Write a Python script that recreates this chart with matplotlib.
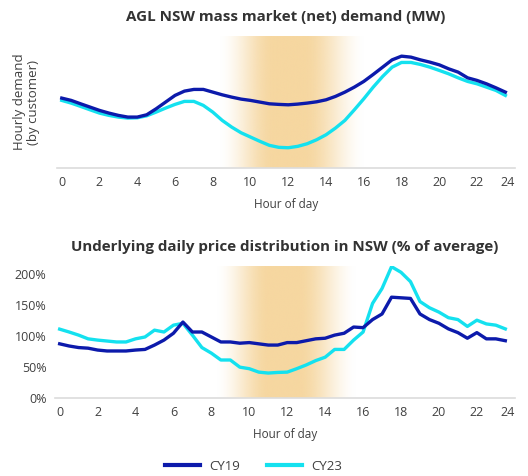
import numpy as np
import matplotlib
matplotlib.use("Agg")
import matplotlib.pyplot as plt
from matplotlib.lines import Line2D

plt.rcParams['font.family'] = ['Open Sans', 'DejaVu Sans']

# half-hourly time axis
hours = np.arange(0, 24, 0.5)

# top chart: net demand per customer (arbitrary units, no y scale shown)
demand_cy19 = [70.0, 67.7, 64.3, 61.0, 57.7, 55.0, 52.7, 51.0, 51.0, 53.3,
               59.3, 66.0, 72.7, 77.0, 78.7, 78.7, 76.0, 73.3, 71.0, 69.0,
               67.7, 66.0, 64.3, 63.7, 63.3, 64.0, 65.0, 66.3, 68.3, 71.7,
               76.0, 81.0, 86.7, 93.7, 101.0, 108.3, 112.0, 111.0, 108.3, 106.0,
               103.3, 99.3, 96.0, 90.3, 87.7, 84.3, 80.3, 76.0]
demand_cy23 = [67.7, 65.0, 61.7, 58.3, 55.0, 52.7, 51.0, 50.0, 50.3, 52.3,
               56.0, 60.0, 63.7, 66.7, 66.7, 62.7, 56.0, 47.7, 41.0, 35.3,
               31.0, 26.7, 22.7, 20.7, 20.3, 21.7, 24.3, 28.3, 33.3, 40.0,
               47.7, 58.3, 69.3, 81.0, 91.7, 101.0, 105.7, 105.7, 103.7, 101.0,
               97.7, 94.3, 90.3, 86.7, 84.3, 81.0, 77.7, 72.7]

# bottom chart: price as % of daily average
price_cy19 = [87, 83.5, 81, 80, 77, 75.5, 75.5, 75.5, 77, 78,
              85, 93, 104, 122, 106, 106, 98, 90, 90, 88,
              89, 87, 85, 85, 89, 89, 92, 95, 96, 101,
              104, 114, 113, 126, 135, 162, 161, 160, 135, 126,
              120, 111, 105, 96, 105, 95, 95, 92]
price_cy23 = [110.6, 106, 101, 95, 93, 91.5, 90, 90, 95, 98,
              109, 106, 117, 120, 101, 81, 72, 61, 61, 49.5,
              47, 41.5, 40, 41, 41.5, 47, 53, 60, 65.5, 78,
              78, 93, 106, 152, 176, 211, 202, 187, 155, 145,
              138, 129, 126, 115, 125, 119, 117, 111]

x_ticks = [0, 2, 4, 6, 8, 10, 12, 14, 16, 18, 20, 22, 23.6]
x_tick_labels = ['0', '2', '4', '6', '8', '10', '12', '14', '16', '18', '20', '22', '24']
y_ticks = [0, 50, 100, 150, 200]
y_tick_labels = ['0%', '50%', '100%', '150%', '200%']

NAVY = '#0c1aab'
CYAN = '#14e1ef'
TEXT = '#404040'


def solar_band(ax, x0, x1, ylim):
    # orange band fading out at both edges (smoothstep ramps)
    xs = np.linspace(0, 1, 400)
    up = np.clip(xs / 0.38, 0, 1)
    down = np.clip((1 - xs) / 0.42, 0, 1)
    t = np.minimum(up, down)
    alpha = t * t * (3 - 2 * t)
    rgba = np.zeros((1, len(xs), 4))
    rgba[..., 0] = 0xf6 / 255
    rgba[..., 1] = 0xd7 / 255
    rgba[..., 2] = 0xa0 / 255
    rgba[..., 3] = alpha
    ax.imshow(rgba, extent=(x0, x1, ylim[0], ylim[1]), aspect='auto',
              interpolation='bilinear', zorder=0)


def style_axes(ax):
    for s in ['top', 'right', 'left']:
        ax.spines[s].set_visible(False)
    ax.spines['bottom'].set_color('#dcdcdc')
    ax.spines['bottom'].set_linewidth(1.2)
    ax.tick_params(axis='both', length=0, labelsize=9, colors=TEXT, pad=6)
    ax.set_xlim(-0.25, 24.0)
    ax.set_xticks(x_ticks)
    ax.set_xticklabels(x_tick_labels)


fig = plt.figure(figsize=(5.28, 4.76), dpi=100)

# top chart
ax1 = fig.add_axes([0.108, 0.647, 0.867, 0.277])
ylim1 = (0, 132)
solar_band(ax1, 8.3, 16.1, ylim1)
ax1.plot(hours, demand_cy19, color=NAVY, lw=2.4, zorder=3)
ax1.plot(hours, demand_cy23, color=CYAN, lw=2.4, zorder=2)
ax1.set_ylim(*ylim1)
style_axes(ax1)
ax1.set_yticks([])
ax1.set_title('AGL NSW mass market (net) demand (MW)', fontsize=10.9,
              fontweight='bold', color='#333333', pad=11)
ax1.set_ylabel('Hourly demand\n(by customer)', fontsize=9.5, color=TEXT,
               labelpad=12, linespacing=1.1)
ax1.set_xlabel('Hour of day', fontsize=8.5, color=TEXT, labelpad=6)

# bottom chart
ax2 = fig.add_axes([0.104, 0.164, 0.871, 0.277])
ylim2 = (0, 212)
solar_band(ax2, 8.2, 15.7, ylim2)
ax2.plot(hours, price_cy19, color=NAVY, lw=2.4, zorder=3)
ax2.plot(hours, price_cy23, color=CYAN, lw=2.4, zorder=2)
ax2.set_ylim(*ylim2)
style_axes(ax2)
ax2.set_yticks(y_ticks)
ax2.set_yticklabels(y_tick_labels)
ax2.set_title('Underlying daily price distribution in NSW (% of average)',
              fontsize=10.9, fontweight='bold', color='#333333', pad=11)
ax2.set_xlabel('Hour of day', fontsize=8.5, color=TEXT, labelpad=6)

handles = [Line2D([0], [0], color=NAVY, lw=3),
           Line2D([0], [0], color=CYAN, lw=3)]
fig.legend(handles, ['CY19', 'CY23'], loc='center', bbox_to_anchor=(0.48, 0.02),
           ncol=2, frameon=False, fontsize=9.5, handlelength=2.7,
           handletextpad=0.7, columnspacing=2.0, labelcolor=TEXT)

fig.savefig('out.png', dpi=100)
